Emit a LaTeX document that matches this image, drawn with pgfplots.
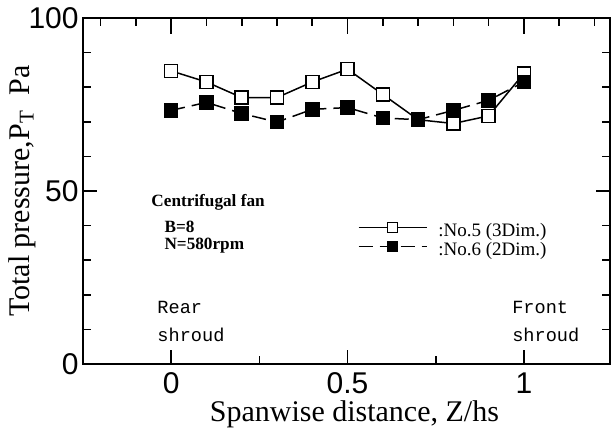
\documentclass[border=0pt]{standalone}
\usepackage{fontspec}
\setmainfont{Liberation Serif}
\setsansfont{Liberation Sans}
\setmonofont{Liberation Mono}
\usepackage{pgfplots}
\pgfplotsset{compat=1.18}

\begin{document}
\begin{tikzpicture}

\begin{axis}[
    scale only axis, width=263.5pt, height=173pt,
    xmin=-0.25, xmax=1.244, ymin=0, ymax=100,
    clip=false,
    axis line style={line width=1pt},
    xtick={0,0.5,1}, minor xtick={0.25,0.75}, xtick pos=bottom,
    ytick={0,50,100}, minor ytick={10,20,30,40,60,70,80,90}, ytick pos=both,
    major tick length=7pt, minor tick length=4pt,
    tick style={line width=0.8pt, black},
    ticklabel style={font=\fontsize{15}{15}\sffamily},
    /pgf/number format/assume math mode=true,
    xticklabel style={inner sep=0pt, yshift=-4pt},
    yticklabel style={inner sep=0pt, xshift=-2pt},
    xlabel={Spanwise distance, Z/hs},
    ylabel={Total pressure,P\textsubscript{T}\ \ Pa},
    label style={font=\fontsize{15}{15}\selectfont},
    xlabel style={at={(axis description cs:0.515,-0.165)}, anchor=base},
    ylabel style={at={(axis description cs:-0.142,0.5)}, anchor=north, inner sep=0pt},
    legend style={at={(axis cs:0.528,41)}, anchor=north west, draw=none, fill=none,
        inner sep=0pt, font=\fontsize{9.5}{9.5}\selectfont, row sep=0pt,
        nodes={inner sep=0pt, text height=6.5pt, text depth=2.5pt},
        /tikz/every odd column/.append style={column sep=5.5pt}},
    legend cell align=left,
    legend image code/.code={\draw[mark repeat=2,mark phase=2,#1,mark size=2.5pt]
        plot coordinates {(0pt,2.5pt)(17pt,2.5pt)(34pt,2.5pt)};},
]

% No.5 (3Dim.)
\addplot[black, line width=0.75pt, mark=square*, mark size=3.25pt,
    mark options={fill=white, solid, line width=0.75pt}]
coordinates {(0,84.7) (0.1,81.5) (0.2,77.0) (0.3,77.0) (0.4,81.5) (0.5,85.2)
    (0.6,77.9) (0.7,70.6) (0.8,69.5) (0.9,71.7) (1.0,84.0)};
\addlegendentry{:No.5 (3Dim.)}

% No.6 (2Dim.)
\addplot[black, line width=0.75pt, dash pattern=on 7pt off 3.5pt, mark=square*, mark size=3.25pt,
    mark options={fill=black, solid}]
coordinates {(0,73.3) (0.1,75.6) (0.2,72.4) (0.3,69.9) (0.4,73.6) (0.5,74.1)
    (0.6,71.1) (0.7,70.6) (0.8,73.3) (0.9,76.2) (1.0,81.5)};
\addlegendentry{:No.6 (2Dim.)}

\node[anchor=west, inner sep=0pt, font=\fontsize{8.6}{9}\selectfont\bfseries] at (axis cs:-0.057,46.8) {Centrifugal fan};
\node[anchor=west, inner sep=0pt, font=\fontsize{8.6}{9}\selectfont\bfseries] at (axis cs:-0.02,39.6) {B=8};
\node[anchor=west, inner sep=0pt, font=\fontsize{8.6}{9}\selectfont\bfseries] at (axis cs:-0.02,34.1) {N=580rpm};

\node[anchor=base west, inner sep=0pt, font=\fontsize{9.3}{9}\ttfamily] at (axis cs:-0.04,14.7) {Rear};
\node[anchor=base west, inner sep=0pt, font=\fontsize{9.3}{9}\ttfamily] at (axis cs:-0.04,6.4) {shroud};
\node[anchor=base west, inner sep=0pt, font=\fontsize{9.3}{9}\ttfamily] at (axis cs:0.966,14.7) {Front};
\node[anchor=base west, inner sep=0pt, font=\fontsize{9.3}{9}\ttfamily] at (axis cs:0.966,6.4) {shroud};

\path (rel axis cs:-0.1575,-0.185) rectangle (rel axis cs:1.0057,1.052);
\end{axis}

% top ticks
\begin{axis}[
    scale only axis, width=263.5pt, height=173pt,
    xmin=-0.25, xmax=1.244, ymin=0, ymax=100,
    axis line style={line width=1pt},
    xtick={0,0.5,1},
    minor xtick={-0.2,-0.1,0.1,0.2,0.3,0.4,0.6,0.7,0.8,0.9,1.1,1.2},
    xtick pos=top, xticklabels={}, ytick=\empty,
    major tick length=8pt, minor tick length=4pt,
    tick style={line width=0.8pt, black},
]
\end{axis}

\end{tikzpicture}
\end{document}
